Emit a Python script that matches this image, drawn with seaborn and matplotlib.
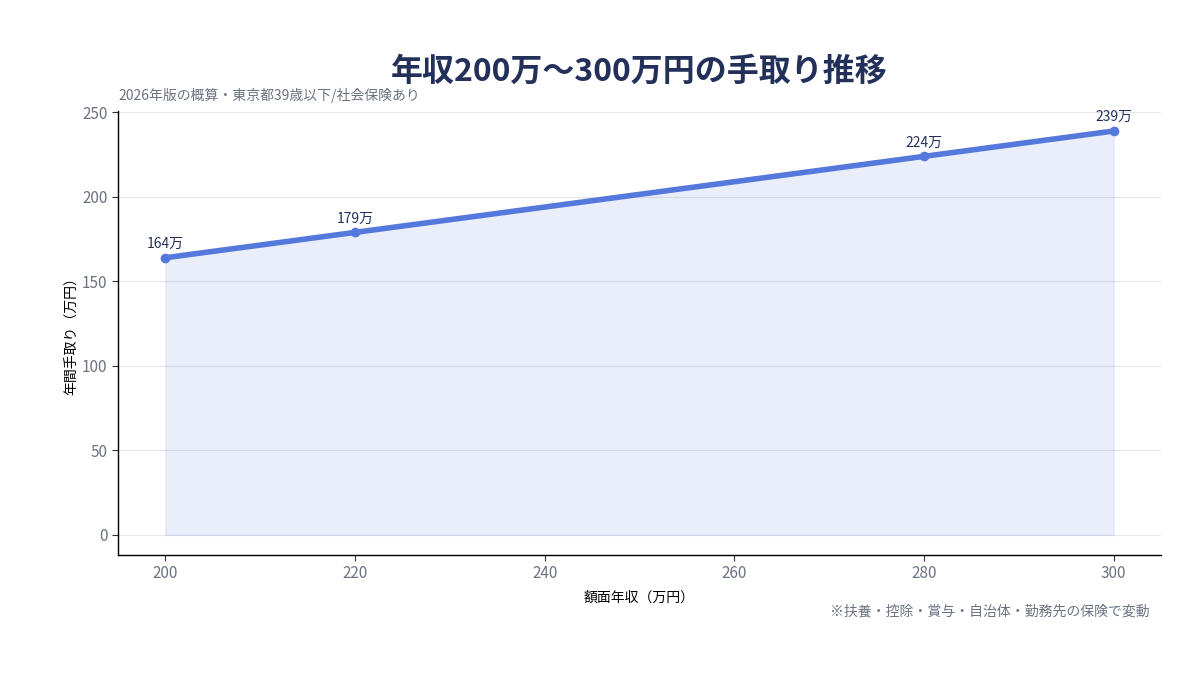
import pandas as pd
import matplotlib
matplotlib.use('Agg')
import matplotlib.pyplot as plt
import seaborn as sns

# Data
gross_income = [200, 220, 280, 300]
take_home = [164, 179, 224, 239]
point_labels = ['164万', '179万', '224万', '239万']

df = pd.DataFrame({'gross': gross_income, 'net': take_home})

sns.set_theme(style='white')
plt.rcParams['font.family'] = ['Noto Sans CJK JP', 'DejaVu Sans']

line_color = '#5478dc'
navy = '#22305a'
gray = '#6b7280'

fig = plt.figure(figsize=(12, 6.8), dpi=100)
ax = fig.add_axes([0.0983, 0.1838, 0.8692, 0.6532])

ax.fill_between(df['gross'], df['net'], 0, color=line_color, alpha=0.12, linewidth=1)
sns.lineplot(data=df, x='gross', y='net', ax=ax, color=line_color, linewidth=4,
             marker='o', markersize=7, markeredgewidth=0)

for x, y, lab in zip(df['gross'], df['net'], point_labels):
    ax.annotate(lab, (x, y), xytext=(0, 5), textcoords='offset points',
                ha='center', va='bottom', fontsize=10, color=navy)

ax.set_xticks([200, 220, 240, 260, 280, 300])
ax.set_yticks([0, 50, 100, 150, 200, 250])
ax.tick_params(axis='both', colors=gray, labelsize=11, length=4, width=0.8, left=True, bottom=True)
ax.tick_params(axis='both', color='#333333')
ax.grid(axis='y', color='#e5e7eb', linewidth=0.8)
ax.grid(axis='x', visible=False)
for s in ['top', 'right']:
    ax.spines[s].set_visible(False)
for s in ['left', 'bottom']:
    ax.spines[s].set_color('black')
    ax.spines[s].set_linewidth(1)

ax.set_xlabel('額面年収（万円）', fontsize=10, color='black', labelpad=6)
ax.set_ylabel('年間手取り（万円）', fontsize=10, color='black', labelpad=3)

ax.set_title('年収200万〜300万円の手取り推移', fontsize=23, fontweight='bold',
             color=navy, pad=22)
ax.text(0, 1.018, '2026年版の概算・東京都39歳以下/社会保険あり', transform=ax.transAxes,
        ha='left', va='bottom', fontsize=10, color=gray)
fig.text(0.958, 0.1, '※扶養・控除・賞与・自治体・勤務先の保険で変動', ha='right', va='center',
         fontsize=10, color=gray)

fig.savefig('out.png', dpi=100)
